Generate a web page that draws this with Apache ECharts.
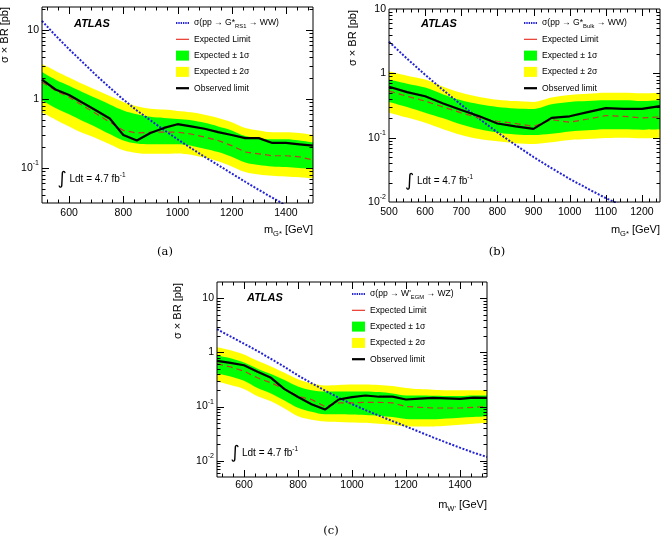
<!DOCTYPE html>
<html><head><meta charset="utf-8">
<script src="https://cdn.jsdelivr.net/npm/echarts@6/dist/echarts.min.js"></script>
<style>html,body{margin:0;padding:0;background:#fff}#c{width:667px;height:543px}</style>
</head><body><div id="c"></div>
<script>
// ---------------- data ----------------
const massA = [500,550,600,650,700,750,800,850,900,950,1000,1050,1100,1150,1200,1250,1300,1350,1400,1450,1500];
const theoryA = [13.5,8.3,5.25,3.4,2.2,1.46,0.98,0.68,0.49,0.355,0.26,0.193,0.145,0.11,0.083,0.063,0.048,0.037,0.0285,0.022,0.017];
const expectedA = [1.75,1.32,1.06,0.80,0.61,0.46,0.35,0.32,0.33,0.33,0.33,0.31,0.28,0.25,0.21,0.17,0.16,0.15,0.15,0.145,0.13];
const observedA = [1.9,1.37,1.14,0.88,0.68,0.52,0.30,0.25,0.32,0.38,0.43,0.40,0.37,0.33,0.30,0.27,0.27,0.23,0.23,0.22,0.21];
const up2A = [3.2,2.55,2.05,1.65,1.35,1.1,0.9,0.78,0.72,0.7,0.67,0.64,0.59,0.53,0.46,0.38,0.35,0.33,0.33,0.32,0.30];
const up1A = [2.45,1.9,1.55,1.25,1.02,0.83,0.68,0.6,0.55,0.53,0.51,0.49,0.45,0.40,0.35,0.29,0.27,0.26,0.26,0.25,0.235];
const dn1A = [0.95,0.74,0.6,0.48,0.39,0.31,0.25,0.225,0.22,0.22,0.22,0.21,0.19,0.17,0.145,0.12,0.11,0.105,0.103,0.10,0.096];
const dn2A = [0.64,0.5,0.4,0.32,0.27,0.22,0.18,0.165,0.16,0.16,0.162,0.155,0.14,0.125,0.105,0.087,0.08,0.077,0.075,0.073,0.07];

const massB = [500,550,600,650,700,750,800,850,900,950,1000,1050,1100,1150,1200,1250];
const theoryB = [3.09,1.69,0.95,0.548,0.324,0.196,0.121,0.077,0.050,0.0335,0.0229,0.0161,0.0115,0.0085,0.0064,0.005];
const expectedB = [0.53,0.44,0.37,0.30,0.243,0.203,0.18,0.166,0.15,0.19,0.174,0.195,0.22,0.215,0.203,0.21];
const observedB = [0.62,0.51,0.44,0.34,0.27,0.215,0.166,0.15,0.137,0.203,0.215,0.249,0.288,0.28,0.28,0.31];
const up2B = [1.08,0.92,0.8,0.62,0.5,0.43,0.39,0.37,0.36,0.42,0.46,0.48,0.5,0.5,0.49,0.5];
const up1B = [0.8,0.69,0.6,0.47,0.38,0.33,0.30,0.285,0.28,0.33,0.36,0.37,0.38,0.38,0.37,0.38];
const dn1B = [0.36,0.3,0.245,0.2,0.16,0.135,0.12,0.112,0.11,0.115,0.125,0.13,0.135,0.135,0.133,0.135];
const dn2B = [0.245,0.205,0.17,0.135,0.11,0.095,0.088,0.082,0.08,0.085,0.092,0.095,0.099,0.1,0.098,0.1];

const massC = [500,550,600,650,700,750,800,850,900,950,1000,1050,1100,1150,1200,1250,1300,1350,1400,1450,1500];
const theoryC = [2.7,1.97,1.45,1.06,0.76,0.54,0.376,0.27,0.197,0.146,0.111,0.086,0.068,0.054,0.043,0.034,0.027,0.0216,0.0174,0.0141,0.0117];
const expectedC = [0.617,0.54,0.45,0.34,0.274,0.212,0.155,0.135,0.1,0.117,0.117,0.12,0.12,0.117,0.1,0.097,0.094,0.094,0.094,0.097,0.1];
const observedC = [0.70,0.64,0.58,0.44,0.34,0.21,0.15,0.11,0.088,0.135,0.149,0.16,0.152,0.153,0.135,0.14,0.145,0.142,0.139,0.146,0.145];
const up2C = [1.25,1.1,0.92,0.7,0.55,0.42,0.32,0.27,0.245,0.25,0.255,0.255,0.25,0.24,0.22,0.21,0.205,0.2,0.2,0.2,0.2];
const up1C = [0.88,0.78,0.65,0.5,0.4,0.31,0.235,0.2,0.19,0.19,0.19,0.19,0.185,0.175,0.16,0.16,0.158,0.157,0.157,0.16,0.16];
const dn1C = [0.41,0.36,0.3,0.22,0.175,0.13,0.095,0.08,0.072,0.072,0.071,0.07,0.068,0.064,0.059,0.058,0.058,0.06,0.062,0.064,0.066];
const dn2C = [0.29,0.25,0.21,0.155,0.125,0.092,0.066,0.057,0.053,0.052,0.051,0.05,0.048,0.046,0.043,0.043,0.043,0.044,0.046,0.048,0.05];

// axis ranges / tick steps
const xRangeA = [500,1500], yRangeA = [0.031,21.5], xLabelStepA = 200, xMinorA = 40;
const xRangeB = [500,1250], yRangeB = [0.01,10],   xLabelStepB = 100, xMinorB = 20;
const xRangeC = [500,1500], yRangeC = [0.005,20],  xLabelStepC = 200, xMinorC = 40;

const legendText = {
  thA: 'σ(pp → G*{sub|RS1} → WW)',
  thB: 'σ(pp → G*{sub|Bulk} → WW)',
  thC: "σ(pp → W'{sub|EGM} → WZ)"
};

// ---------------- styling / build ----------------
const FONT = '"Liberation Sans", Arial, Helvetica, sans-serif';
const C_GREEN = '#00ff00', C_YELLOW = '#ffff00', C_RED = '#c4382a', C_BLUE = '#2222d8';

const panels = [
  {grid:{left:42, top:7, width:271, height:196}, xr:xRangeA, yr:yRangeA, step:xLabelStepA, minor:xMinorA, labMargin:5,
   m:massA, th:theoryA, ex:expectedA, ob:observedA, u2:up2A, u1:up1A, d1:dn1A, d2:dn2A, thName:'thA'},
  {grid:{left:389, top:9, width:271, height:193}, xr:xRangeB, yr:yRangeB, step:xLabelStepB, minor:xMinorB, labMargin:5,
   m:massB, th:theoryB, ex:expectedB, ob:observedB, u2:up2B, u1:up1B, d1:dn1B, d2:dn2B, thName:'thB'},
  {grid:{left:217, top:282, width:270, height:195}, xr:xRangeC, yr:yRangeC, step:xLabelStepC, minor:xMinorC, labMargin:3,
   m:massC, th:theoryC, ex:expectedC, ob:observedC, u2:up2C, u1:up1C, d1:dn1C, d2:dn2C, thName:'thC'}
];

function logLabel(v) {
  const l = Math.log10(v), e = Math.round(l);
  if (Math.abs(l - e) > 1e-6) return '';
  if (e === 0) return '1';
  if (e === 1) return '10';
  return '10{sup|' + e + '}';
}

function tickItems(p) {
  const items = [];
  const [x0, x1] = p.xr;
  for (let x = Math.ceil(x0 / p.minor) * p.minor; x < x1; x += p.minor) {
    if (x > x0) items.push([x, 1, 0, (x % p.step === 0) ? 1 : 0]);
  }
  const [y0, y1] = p.yr;
  for (let e = Math.floor(Math.log10(y0)); e <= Math.ceil(Math.log10(y1)); e++) {
    for (let k = 1; k <= 9; k++) {
      const v = k * Math.pow(10, e);
      if (v > y0 * 1.0001 && v < y1 * 0.9999) items.push([x0, v, 1, k === 1 ? 1 : 0]);
    }
  }
  return items;
}

function renderTicks(params, api) {
  const cs = params.coordSys;
  const kind = api.value(2), major = api.value(3);
  const len = major ? 7 : 3.5;
  const st = {stroke: '#000', lineWidth: 1};
  if (kind === 0) {
    const px = Math.round(api.coord([api.value(0), 1])[0]) + 0.5;
    const yb = cs.y + cs.height, yt = cs.y;
    return {type:'group', children:[
      {type:'line', shape:{x1:px, y1:yb, x2:px, y2:yb-len}, style:st},
      {type:'line', shape:{x1:px, y1:yt, x2:px, y2:yt+len}, style:st}]};
  }
  const py = Math.round(api.coord([api.value(0), api.value(1)])[1]) + 0.5;
  const xl = cs.x, xr = cs.x + cs.width;
  return {type:'group', children:[
    {type:'line', shape:{x1:xl, y1:py, x2:xl+len, y2:py}, style:st},
    {type:'line', shape:{x1:xr, y1:py, x2:xr-len, y2:py}, style:st}]};
}

const grids = [], xAxes = [], yAxes = [], series = [], legends = [];
const pairs = (xs, ys) => xs.map((x, k) => [x, ys[k]]);

let dotPath = 'path://';
for (let i = 0; i < 6; i++) dotPath += 'M' + (i * 2.5) + ',0h1.5v1.9h-1.5z';

panels.forEach((p, i) => {
  grids.push(Object.assign({show:true, borderColor:'#000', borderWidth:1, backgroundColor:'transparent', z:10, outerBoundsMode:'none', containLabel:false}, p.grid));
  xAxes.push({gridIndex:i, type:'value', min:p.xr[0], max:p.xr[1], interval:100, z:10,
    axisLine:{show:false}, axisTick:{show:false}, splitLine:{show:false}, minorTick:{show:false},
    axisLabel:{margin:p.labMargin, color:'#000', fontSize:10.5, fontFamily:FONT,
      formatter: v => (v % p.step === 0 ? String(v) : '')}});
  yAxes.push({gridIndex:i, type:'log', logBase:10, min:p.yr[0], max:p.yr[1], z:10,
    axisLine:{show:false}, axisTick:{show:false}, splitLine:{show:false},
    axisLabel:{margin:3, color:'#000', fontSize:10.5, fontFamily:FONT, lineHeight:16, formatter: logLabel,
      rich:{sup:{fontSize:7, lineHeight:8, verticalAlign:'top', fontFamily:FONT, color:'#000'}}}});

  const band = (arr, name, color, z) => ({type:'line', name, xAxisIndex:i, yAxisIndex:i, data:pairs(p.m, arr),
    smooth:0.35, symbol:'none', color, lineStyle:{width:0}, areaStyle:{color, opacity:1, origin:'start'},
    z, silent:true, emphasis:{disabled:true}, animation:false});
  series.push(band(p.u2, 'Expected ± 2σ', C_YELLOW, 1));
  series.push(band(p.u1, 'Expected ± 1σ', C_GREEN, 2));
  series.push(band(p.d1, 'lo1_' + i, C_YELLOW, 3));
  series.push(band(p.d2, 'lo2_' + i, '#ffffff', 4));
  series.push({type:'line', name:p.thName, xAxisIndex:i, yAxisIndex:i, data:pairs(p.m, p.th), symbol:'none',
    color:C_BLUE, lineStyle:{color:C_BLUE, width:2, type:[2,1.6]}, z:6, silent:true, animation:false});
  series.push({type:'line', name:'Expected Limit', xAxisIndex:i, yAxisIndex:i, data:pairs(p.m, p.ex), symbol:'none',
    color:C_RED, lineStyle:{color:C_RED, width:1.2, type:[6,4]}, z:6, silent:true, animation:false});
  series.push({type:'line', name:'Observed limit', xAxisIndex:i, yAxisIndex:i, data:pairs(p.m, p.ob), symbol:'none',
    color:'#000', lineStyle:{color:'#000', width:2.2}, z:7, silent:true, animation:false});
  series.push({type:'custom', name:'ticks_' + i, xAxisIndex:i, yAxisIndex:i, data:tickItems(p), renderItem:renderTicks,
    z:8, silent:true, animation:false});
});

const legPos = [[176, 17], [524, 17], [352, 288]];
panels.forEach((p, i) => {
  legends.push({left:legPos[i][0], top:legPos[i][1], orient:'vertical', itemWidth:13, itemHeight:10, itemGap:4.3,
    padding:0, selectedMode:false, symbolKeepAspect:true, z:20,
    textStyle:{fontFamily:FONT, fontSize:8.6, color:'#000', lineHeight:12,
      rich:{sub:{fontSize:5.8, lineHeight:7, verticalAlign:'bottom', fontFamily:FONT, color:'#000'}}},
    formatter: name => legendText[name] || name,
    data:[
      {name:p.thName, icon:dotPath, itemStyle:{color:C_BLUE, borderWidth:0}},
      {name:'Expected Limit', icon:'path://M0,0h14v1.2h-14z', itemStyle:{color:'#e8271c', borderWidth:0}},
      {name:'Expected ± 1σ', icon:'rect', itemStyle:{color:C_GREEN, borderWidth:0}},
      {name:'Expected ± 2σ', icon:'rect', itemStyle:{color:C_YELLOW, borderWidth:0}},
      {name:'Observed limit', icon:'path://M0,0h14v2.4h-14z', itemStyle:{color:'#000', borderWidth:0}}
    ]});
});

const txt = (x, y, text, extra) => ({type:'text', x, y, z:100, silent:true,
  style:Object.assign({text, fill:'#000', fontFamily:FONT, fontSize:11}, extra)});
const supRich = {sup:{fontSize:6.5, lineHeight:7, verticalAlign:'top', fontFamily:FONT, fill:'#000', color:'#000'}};
const subRich = {sub:{fontSize:7.5, lineHeight:9, verticalAlign:'bottom', fontFamily:FONT, fill:'#000', color:'#000'}};
const graphics = [];
// y titles
[[5, 7], [352.5, 10], [177.5, 283]].forEach(([x, y]) => {
  graphics.push(Object.assign(txt(x, y, 'σ × BR [pb]', {align:'right', verticalAlign:'middle', fontSize:11}), {rotation:Math.PI / 2}));
});
// x titles
graphics.push(txt(313, 230, 'm{sub|G*} [GeV]', {align:'right', verticalAlign:'middle', lineHeight:15, rich:subRich}));
graphics.push(txt(660, 230, 'm{sub|G*} [GeV]', {align:'right', verticalAlign:'middle', lineHeight:15, rich:subRich}));
graphics.push(txt(487, 505, "m{sub|W'} [GeV]", {align:'right', verticalAlign:'middle', lineHeight:15, rich:subRich}));
// ATLAS labels
[[74, 24], [421, 24], [247, 298]].forEach(([x, y]) => {
  graphics.push(txt(x, y, 'ATLAS', {align:'left', verticalAlign:'middle', fontWeight:'bold', fontStyle:'italic', fontSize:11}));
});
// luminosity labels
[[62, 179, 69.5], [409.5, 181, 417], [235, 453, 242]].forEach(([xi, y, xt]) => {
  graphics.push(txt(xi, y, '∫', {align:'center', verticalAlign:'middle', fontFamily:'"DejaVu Sans", sans-serif', fontSize:17.5}));
  graphics.push(txt(xt, y, 'Ldt = 4.7 fb{sup|-1}', {align:'left', verticalAlign:'middle', fontSize:10, lineHeight:14, rich:supRich}));
});
// captions
[[165, 252, '(a)'], [497, 252, '(b)'], [331, 531, '(c)']].forEach(([x, y, t]) => {
  graphics.push(txt(x, y, t, {align:'center', verticalAlign:'middle', fontFamily:'"DejaVu Serif", "Liberation Serif", serif', fontSize:11.5}));
});

const chart = echarts.init(document.getElementById('c'), null, {renderer:'canvas'});
chart.setOption({
  animation:false,
  backgroundColor:'#fff',
  grid:grids, xAxis:xAxes, yAxis:yAxes, series, legend:legends, graphic:graphics
});
</script></body></html>
